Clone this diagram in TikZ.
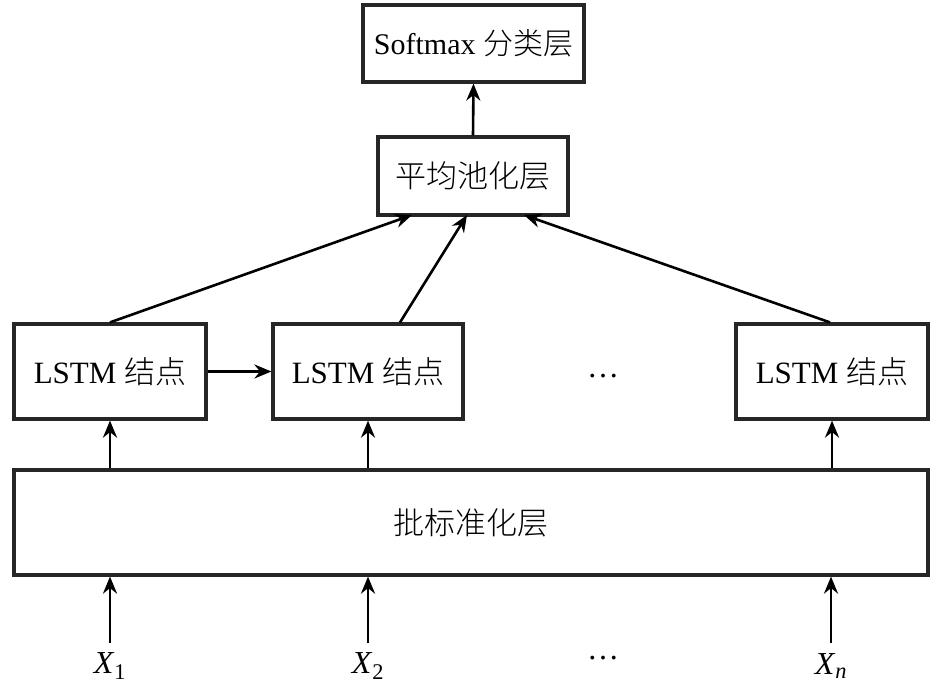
\documentclass[tikz,border=0pt]{standalone}
\usepackage{fontspec}
\setmainfont{Liberation Serif}
\newfontfamily\cjk{Noto Sans CJK SC Light}
\usetikzlibrary{arrows.meta}
\begin{document}
\begin{tikzpicture}[x=1pt,y=-1pt,
  box/.style={draw=black!85,line width=3.2pt,fill=white,inner sep=0pt,font=\fontsize{31}{34}\selectfont},
  arr/.style={line width=2.6pt,-{Stealth[length=17pt,width=14pt]}},
  lbl/.style={font=\fontsize{32}{34}\selectfont}]
\useasboundingbox (0,0) rectangle (945,699);
\node[box,minimum width=221pt,minimum height=77pt,font=\fontsize{30}{32}\selectfont] (soft) at (473.5,43.5) {Softmax {\cjk 分类层}};
\node[box,minimum width=190pt,minimum height=78pt] (pool) at (473,176) {\cjk 平均池化层};
\node[box,minimum width=192pt,minimum height=95pt] (l1) at (110,371.5) {LSTM {\cjk 结点}};
\node[box,minimum width=190pt,minimum height=95pt] (l2) at (368,371.5) {LSTM {\cjk 结点}};
\node[box,minimum width=192pt,minimum height=95pt] (l3) at (832,371.5) {LSTM {\cjk 结点}};
\node[lbl] (d1) at (603,376) {\dots};
\node[box,minimum width=914pt,minimum height=105pt] (bn) at (471,522.5) {\cjk 批标准化层};
\node[lbl] (x1) at (110,666) {\textit{X}\textsubscript{1}};
\node[lbl] (x2) at (368,666) {\textit{X}\textsubscript{2}};
\node[lbl] (d2) at (603,658) {\dots};
\node[lbl] (xn) at (831,666) {\textit{X}\textsubscript{\textit{n}}};
\coordinate (x1t) at (110,643);
\coordinate (x2t) at (368,643);
\coordinate (xnt) at (831,643);
\draw[arr] (x1t) -- (x1t |- bn.south);
\draw[arr] (x2t) -- (x2t |- bn.south);
\draw[arr] (xnt) -- (xnt |- bn.south);
\draw[arr] (bn.north -| l1) -- (l1.south);
\draw[arr] (bn.north -| l2) -- (l2.south);
\draw[arr] (bn.north -| l3) -- (l3.south);
\draw[arr] (l1.east) -- (l2.west);
\coordinate (p1) at (412,215);
\coordinate (p2) at (467,215);
\coordinate (p3) at (524,215);
\draw[arr] (l1.north) -- (p1);
\draw[arr] (l2.north -| 400,0) -- (p2);
\draw[arr] (l3.north -| 830,0) -- (p3);
\draw[arr] (pool.north) -- (soft.south);
\end{tikzpicture}
\end{document}
